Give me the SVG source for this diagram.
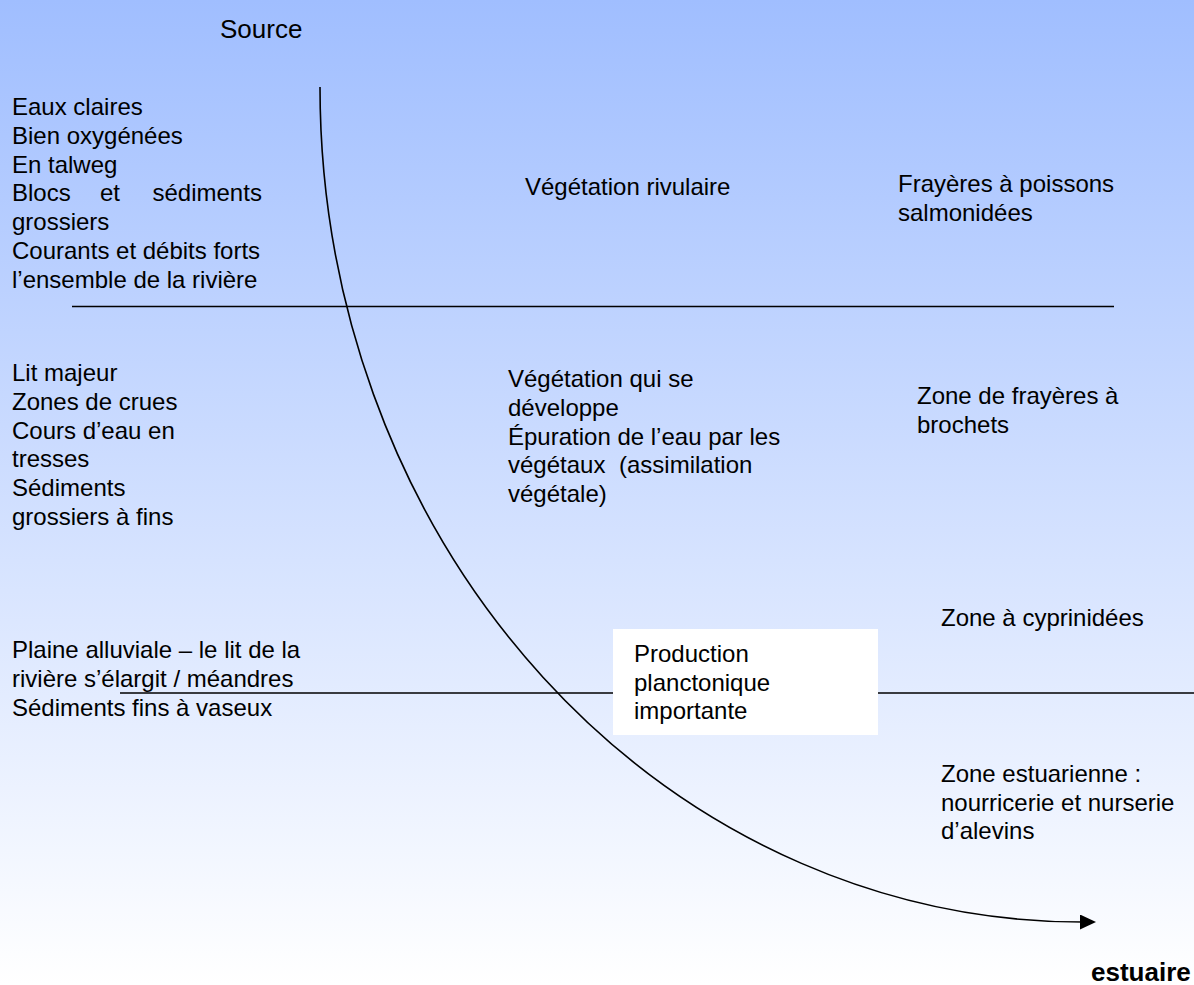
<svg xmlns="http://www.w3.org/2000/svg" width="1194" height="985" viewBox="0 0 1194 985">
<defs>
<linearGradient id="bg" x1="0" y1="0" x2="0" y2="1">
<stop offset="0" stop-color="#A0BEFF"/>
<stop offset="1" stop-color="#FFFFFF"/>
</linearGradient>
<marker id="arrow" markerUnits="userSpaceOnUse" markerWidth="16" markerHeight="15" refX="2" refY="7.5" orient="auto">
<path d="M0,0 L16,7.5 L0,15 z" fill="#000"/>
</marker>
<style>
text{font-family:"Liberation Sans",Arial,sans-serif;font-size:24px;fill:#000}
.big{font-size:26px}
.bold{font-weight:bold}
.ln{stroke:#000;stroke-width:1.6;fill:none}
</style>
</defs>
<rect x="0" y="0" width="1194" height="985" fill="url(#bg)"/>
<g id="connectors">
<line class="ln" x1="72" y1="306.5" x2="1114" y2="306.5"/>
<line class="ln" x1="120" y1="693" x2="1194" y2="693"/>
<path class="ln" d="M320,87 A762,835 0 0 0 1082,922" marker-end="url(#arrow)"/>
</g>
<g id="source"><text class="big" x="220" y="38">Source</text></g>
<g id="upper-left">
<text x="12" y="115">Eaux claires<tspan x="12" dy="28.75">Bien oxygénées</tspan><tspan x="12" dy="28.75">En talweg</tspan><tspan x="12" dy="28.75">Blocs</tspan><tspan x="100" dy="0">et</tspan><tspan x="152.5" dy="0">sédiments</tspan><tspan x="12" dy="28.75">grossiers</tspan><tspan x="12" dy="28.75">Courants et débits forts</tspan><tspan x="12" dy="28.75">l’ensemble de la rivière</tspan></text>
</g>
<g id="upper-mid"><text x="525" y="195">Végétation rivulaire</text></g>
<g id="upper-right"><text x="898" y="192">Frayères à poissons<tspan x="898" dy="28.75">salmonidées</tspan></text></g>
<g id="middle-left">
<text x="12" y="381">Lit majeur<tspan x="12" dy="28.75">Zones de crues</tspan><tspan x="12" dy="28.75">Cours d’eau en</tspan><tspan x="12" dy="28.75">tresses</tspan><tspan x="12" dy="28.75">Sédiments</tspan><tspan x="12" dy="28.75">grossiers à fins</tspan></text>
</g>
<g id="middle-mid">
<text x="508" y="387">Végétation qui se<tspan x="508" dy="28.75">développe</tspan><tspan x="508" dy="28.75">Épuration de l’eau par les</tspan><tspan x="508" dy="28.75">végétaux</tspan><tspan x="619" dy="0">(assimilation</tspan><tspan x="508" dy="28.75">végétale)</tspan></text>
</g>
<g id="middle-right"><text x="917" y="404">Zone de frayères à<tspan x="917" dy="28.75">brochets</tspan></text></g>
<g id="lower-left">
<text x="12" y="658">Plaine alluviale – le lit de la<tspan x="12" dy="28.75">rivière s’élargit / méandres</tspan><tspan x="12" dy="28.75">Sédiments fins à vaseux</tspan></text>
</g>
<g id="production">
<rect x="613" y="629" width="265" height="106" fill="#FFFFFF"/>
<text x="634" y="662">Production<tspan x="634" dy="28.5">planctonique</tspan><tspan x="634" dy="28.5">importante</tspan></text>
</g>
<g id="cyprinidees"><text x="941" y="626">Zone à cyprinidées</text></g>
<g id="estuarienne"><text x="941" y="782">Zone estuarienne :<tspan x="941" dy="28.5">nourricerie et nurserie</tspan><tspan x="941" dy="28.5">d’alevins</tspan></text></g>
<g id="estuaire"><text class="big bold" x="1091" y="981">estuaire</text></g>
</svg>
